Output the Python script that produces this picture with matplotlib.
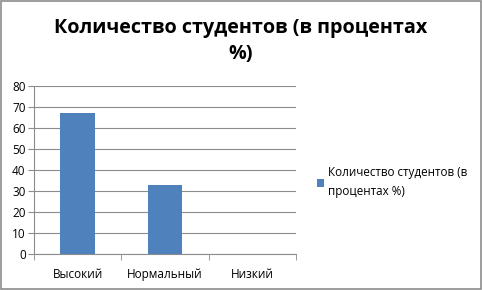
import matplotlib.pyplot as plt
import numpy as np

# данные
categories = ['Высокий', 'Нормальный', 'Низкий']
values = [67, 33, 0]
series_name = 'Количество студентов (в\nпроцентах %)'
title = 'Количество студентов (в процентах\n%)'

plt.rcParams['font.family'] = ['Open Sans', 'DejaVu Sans']

fig = plt.figure(figsize=(4.82, 2.9), dpi=100)
ax = fig.add_axes([34/482, 1 - 254/290, 262/482, 168/290])

x = np.arange(len(categories))
bars = ax.bar(x, values, width=0.4, color='#4f81bd', label=series_name, zorder=3)

ax.set_xlim(-0.5, 2.5)
ax.set_ylim(0, 80)
ax.set_yticks(range(0, 81, 10))
ax.yaxis.grid(True, color='#8c8c8c', linewidth=0.8, zorder=0)
ax.set_xticks(x)
ax.set_xticklabels(categories)
ax.set_xticks([-0.5, 0.5, 1.5, 2.5], minor=True)
ax.tick_params(axis='x', which='major', length=0, pad=10, labelsize=8.5)
ax.tick_params(axis='x', which='minor', length=4, color='#8c8c8c')
ax.tick_params(axis='y', length=4, color='#8c8c8c', labelsize=8.5, pad=2)

for s in ['top', 'right']:
    ax.spines[s].set_visible(False)
for s in ['left', 'bottom']:
    ax.spines[s].set_color('#8c8c8c')

fig.text(0.5, 1 - 41/290, title, ha='center', va='center', fontsize=14.2,
         fontweight='bold', linespacing=1.45)

leg = fig.legend(loc='center left', bbox_to_anchor=(306/482, 1 - 182/290),
                 frameon=False, fontsize=8.4, handlelength=0.65, handleheight=0.65,
                 handletextpad=0.35)
for t in leg.get_texts():
    t.set_linespacing(1.6)

# рамка вокруг диаграммы
fig.patches.append(plt.Rectangle((0.002, 0.003), 0.995, 0.994, transform=fig.transFigure,
                                 fill=False, edgecolor='#8c8c8c', linewidth=1.2))

fig.savefig('out.png', dpi=100)
